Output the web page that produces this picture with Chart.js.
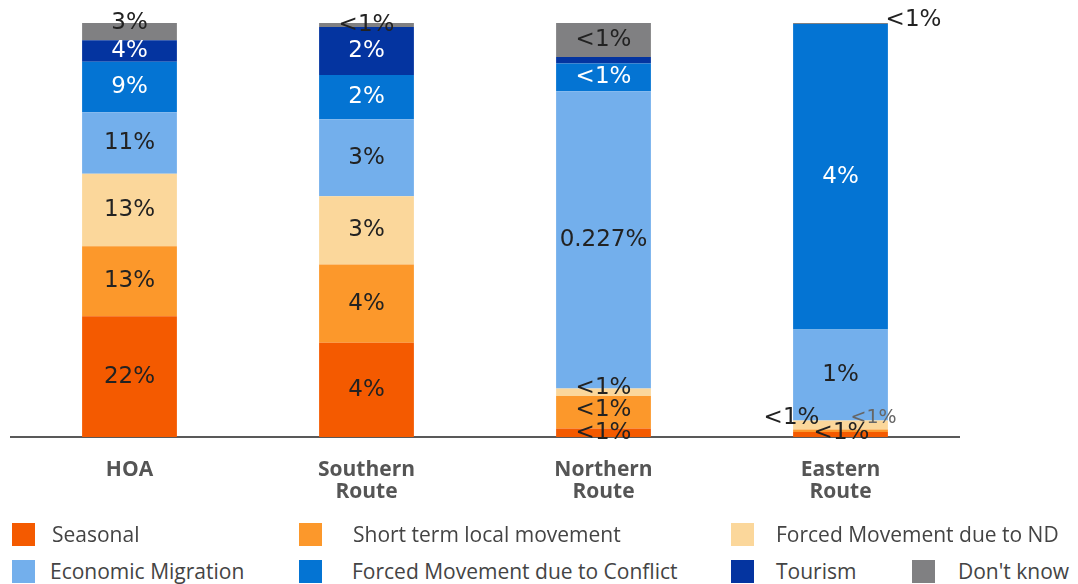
<!DOCTYPE html>
<html>
<head>
<meta charset="utf-8">
<script src="https://cdn.jsdelivr.net/npm/chart.js@4.4.1/dist/chart.umd.min.js"></script>
<style>
  html, body { margin: 0; padding: 0; background: #fff; }
  #wrap { position: relative; width: 1078px; height: 584px; overflow: hidden; }
  #chartBox { position: absolute; left: 0; top: 0; width: 1078px; height: 527px; }
  .sw { position: absolute; width: 23px; height: 23px; }
  .lg { position: absolute; font-family: "Open Sans", sans-serif; font-size: 21px; line-height: 24px; color: #444; white-space: nowrap; }
</style>
</head>
<body>
<div id="wrap">
  <div id="chartBox"><canvas id="c"></canvas></div>
  <div id="legend"></div>
</div>
<script>
// Categories (routes)
const categories = [['HOA'], ['Southern', 'Route'], ['Northern', 'Route'], ['Eastern', 'Route']];

// Reason for movement, per route (raw shares in %)
const seasonal  = [22.4, 4.82, 0.0064, 0.07];
const shortTerm = [13.0, 4.0, 0.0249, 0.035];
const forcedND  = [13.5, 3.49, 0.0056, 0.127];
const economic  = [11.4, 3.95, 0.227, 1.28];
const conflict  = [9.4, 2.26, 0.021, 4.3];
const tourism   = [4.0, 2.46, 0.005, 0];
const dontKnow  = [3.2, 0.2, 0.026, 0.014];

// Printed value labels
const seasonalLabels  = ['22%', '4%', '<1%', '<1%'];
const shortTermLabels = ['13%', '4%', '<1%', '<1%'];
const forcedNDLabels  = ['13%', '3%', '<1%', '<1%'];
const economicLabels  = ['11%', '3%', '0.227%', '1%'];
const conflictLabels  = ['9%', '2%', '<1%', '4%'];
const tourismLabels   = ['4%', '2%', '<1%', ''];
const dontKnowLabels  = ['3%', '<1%', '<1%', '<1%'];

const seriesNames = ['Seasonal', 'Short term local movement', 'Forced Movement due to ND',
  'Economic Migration', 'Forced Movement due to Conflict', 'Tourism', "Don't know"];

const series = [seasonal, shortTerm, forcedND, economic, conflict, tourism, dontKnow];
const seriesLabels = [seasonalLabels, shortTermLabels, forcedNDLabels, economicLabels,
  conflictLabels, tourismLabels, dontKnowLabels];
const colors = ['#F45A00', '#FC982B', '#FBD79B', '#73AFEC', '#0474D3', '#0434A0', '#808082'];
const labelColors = ['#222', '#222', '#222', '#222', '#fff', '#fff', '#222'];

// each bar is drawn as a share of its own total
const totals = categories.map((_, j) => series.reduce((s, arr) => s + arr[j], 0));

const datasets = series.map((arr, i) => ({
  label: seriesNames[i],
  data: arr.map((v, j) => v / totals[j] * 100),
  backgroundColor: colors[i],
  borderWidth: 0,
  segmentLabels: seriesLabels[i],
  labelColor: labelColors[i]
}));

// label nudges for thin segments (dataset:category)
const placement = {
  '6:0': { dy: -9 },
  '5:2': { dx: 75, dy: -2 },
  '2:2': { dy: -4 },
  '1:2': { dy: -2 },
  '6:3': { dx: 73, dy: -3 },
  '2:3': { dx: -49, dy: -7 },
  '1:3': { dx: 33, dy: -13, color: '#666', size: 19 },
  '0:3': { dx: 1, dy: -1 }
};

const segmentLabels = {
  id: 'segmentLabels',
  afterDatasetsDraw(chart) {
    const ctx = chart.ctx;
    chart.data.datasets.forEach((ds, i) => {
      const meta = chart.getDatasetMeta(i);
      meta.data.forEach((bar, j) => {
        const text = ds.segmentLabels[j];
        if (!text) return;
        const p = placement[i + ':' + j] || {};
        const x = bar.x + (p.dx || 0);
        const y = (bar.y + bar.base) / 2 + (p.dy || 0);
        ctx.save();
        ctx.font = (p.size || 23) + 'px "DejaVu Sans"';
        ctx.fillStyle = p.color || ds.labelColor;
        ctx.textAlign = 'center';
        ctx.textBaseline = 'middle';
        ctx.fillText(text, x, y);
        ctx.restore();
      });
    });
  }
};

new Chart(document.getElementById('c'), {
  type: 'bar',
  data: { labels: categories, datasets },
  options: {
    responsive: true,
    maintainAspectRatio: false,
    animation: false,
    layout: { padding: { left: 11, right: 119, top: 23, bottom: 10 } },
    datasets: { bar: { barPercentage: 1, categoryPercentage: 0.4 } },
    plugins: { legend: { display: false }, tooltip: { enabled: false } },
    scales: {
      x: {
        stacked: true,
        grid: { display: false },
        border: { display: true, color: '#595959', width: 2 },
        ticks: {
          padding: 14,
          color: '#555',
          font: { family: 'Open Sans', size: 21, weight: 'bold', lineHeight: 1.05 }
        }
      },
      y: { stacked: true, display: false, min: 0, max: 100 }
    }
  },
  plugins: [segmentLabels]
});

// legend below the chart
const legendSlots = [[12, 523, 52], [299, 523, 353], [731, 523, 776],
  [12, 560, 50], [299, 560, 352], [731, 560, 776], [912, 560, 958]];
const legend = document.getElementById('legend');
seriesNames.forEach((name, i) => {
  const [bx, by, tx] = legendSlots[i];
  const sw = document.createElement('div');
  sw.className = 'sw';
  sw.style.left = bx + 'px';
  sw.style.top = by + 'px';
  sw.style.background = colors[i];
  legend.appendChild(sw);
  const t = document.createElement('div');
  t.className = 'lg';
  t.style.left = tx + 'px';
  t.style.top = (by - 1) + 'px';
  t.textContent = name;
  legend.appendChild(t);
});
</script>
</body>
</html>
